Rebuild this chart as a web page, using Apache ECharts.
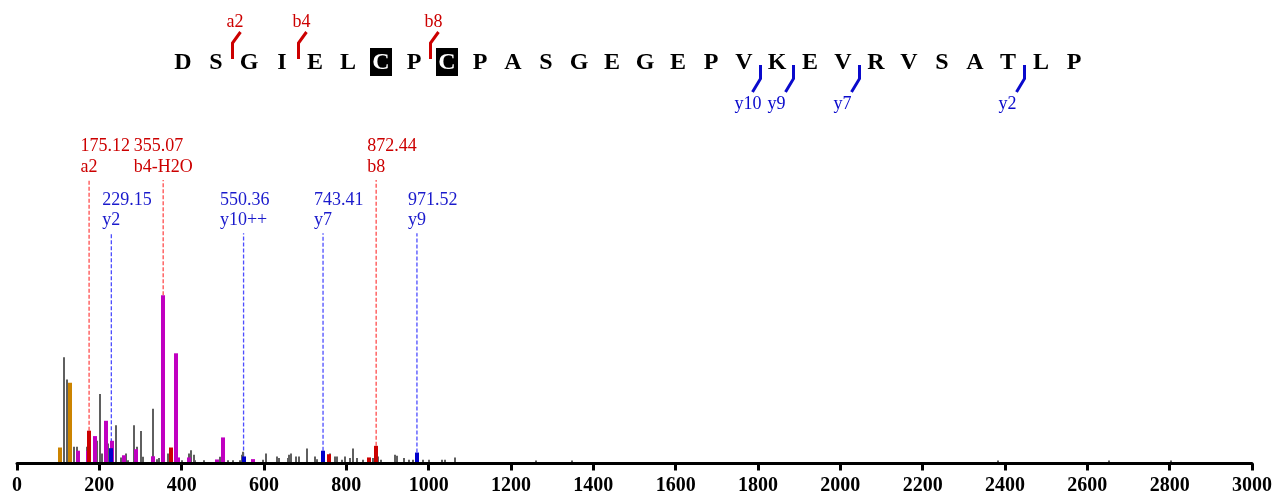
<!DOCTYPE html>
<html>
<head>
<meta charset="utf-8">
<title>MS/MS spectrum</title>
<script src="https://cdn.jsdelivr.net/npm/echarts@6/dist/echarts.min.js"></script>
<style>
html,body{margin:0;padding:0;background:#fff;}
#chart{width:1273px;height:499px;}
</style>
</head>
<body>
<div id="chart"></div>
<script>
// 肽段序列及碎裂位点
var sequence = ['D','S','G','I','E','L','C','P','C','P','A','S','G','E','G','E','P','V','K','E','V','R','V','S','A','T','L','P'];
var modifiedSites = [6, 8];
var nIonNames = ['a2', 'b4', 'b8'];
var nIonSites = [2, 4, 8];
var cIonNames = ['y10', 'y9', 'y7', 'y2'];
var cIonSites = [10, 9, 7, 2];

// 谱峰 (m/z, 相对强度)
var grayMz = [101.7,114,121.5,137.7,145.7,169,194.3,201.6,205.7,221,239.7,253.4,264.8,269.6,285,290.7,301.2,305.3,329.6,340.9,345.7,367.6,389.4,400.8,417,421.9,430,432.4,453.5,493,513.3,525.5,541.7,545.8,548.2,596.8,604,631.6,637.3,657.5,661.5,665.6,677.7,685,703.7,723.9,729.6,740.9,760.3,771.6,777.3,788.6,796.8,808.9,817,825.2,841.4,864,877.7,884.2,918.2,923.8,940,953,962.7,985.4,1000,1032,1039,1065,1261.5,1348,2384,2653,2803];
var grayInt = [5.2,63.1,50,9.9,9.9,9.9,13.5,41.3,6,11.9,22.8,3.6,6,2,22.8,9.9,19.3,4,32.6,2.6,3.2,6,14.9,2,6,7.9,5.2,2,2,4,2,2,2,5.2,7,2.2,6,4.2,3.2,3.2,5.2,6,4.2,4.2,8.9,4.2,2.6,3.2,6,4.2,4.2,2.2,4.2,3.2,8.9,3.2,2.2,3.2,4.2,2.2,5.2,4.6,3.2,2.2,2.2,2.2,2.2,2.2,2.2,3.6,1.8,1.8,1.8,1.8,1.8];
var magentaMz = [147,172.5,189.5,217,230,260.7,288.3,331,355.5,385.4,391.9,417.8,485,501.2,572.5];
var magentaInt = [7.6,7.6,16.3,25.4,13.5,4.9,8.5,4.3,100,65.5,3.6,3.6,2.4,15.5,2.6];
var orangeMz = [105,128.7];
var orangeInt = [9.5,48];
var redMz = [175.12,373.3,757.1,855.9,872.44];
var redInt = [19.5,9.5,5.5,3.6,10.5];
var blueMz = [229.15,550.36,743.41,971.52];
var blueInt = [9.1,4.2,7.6,6.5];

// 标注
var annotMz = [175.12,355.07,872.44,229.15,550.36,743.41,971.52];
var annotName = ['a2','b4-H2O','b8','y2','y10++','y7','y9'];
var annotInt = [19.5,100,10.5,9.1,4.2,7.6,6.5];
var annotLevel = [168.5,168.5,168.5,136.8,136.8,136.8,136.8];
var annotKind = ['b','b','b','y','y','y','y'];

// 坐标轴
var xMin = 0, xMax = 3000, xStep = 200;
var yMax = 200;

var serif = '"Liberation Serif","Times New Roman",serif';
var measureCtx = document.createElement('canvas').getContext('2d');
function textWidth(str, font){
  measureCtx.font = font;
  return measureCtx.measureText(str).width;
}

function zip(a, b){
  var out = [];
  for (var i = 0; i < a.length; i++) out.push([a[i], b[i]]);
  return out;
}

//谱峰柱
function peakRender(color, width){
  return function(params, api){
    var top = api.coord([api.value(0), api.value(1)]);
    var base = api.coord([api.value(0), 0]);
    return {
      type: 'rect',
      shape: {x: Math.round(top[0] - width / 2), y: top[1], width: width, height: base[1] - top[1]},
      style: {fill: color}
    };
  };
}

//峰标注
function annotRender(params, api){
  var i = params.dataIndex;
  var p0 = api.coord([api.value(0), api.value(1)]);
  var p1 = api.coord([api.value(0), api.value(2)]);
  var isB = annotKind[i] == 'b';
  var dash = isB ? '#ff4d4d' : '#4d4dff';
  var txt = isB ? '#cc0000' : '#1a1acc';
  var font = '18px ' + serif;
  var left = p1[0] - textWidth(annotName[i], font) / 2;
  return {
    type: 'group',
    children: [
      {type: 'line', shape: {x1: p0[0], y1: p0[1], x2: p1[0], y2: p1[1]},
       style: {stroke: dash, lineWidth: 1.3, lineDash: [4, 2]}},
      {type: 'text', style: {text: annotName[i], x: left, y: p1[1] - 13, font: font, fill: txt, align: 'left', verticalAlign: 'middle'}},
      {type: 'text', style: {text: annotMz[i].toFixed(2), x: left, y: p1[1] - 33.5, font: font, fill: txt, align: 'left', verticalAlign: 'middle'}}
    ]
  };
}

//序列字母
function letterRender(params, api){
  var i = params.dataIndex;
  var c = api.coord([i, 0]);
  var boxed = modifiedSites.indexOf(i) >= 0;
  var children = [];
  if (boxed) {
    children.push({type: 'rect', shape: {x: c[0] - 11, y: c[1] - 14.6, width: 22, height: 28}, style: {fill: '#000'}});
  }
  children.push({type: 'text', style: {text: sequence[i], x: c[0], y: c[1], font: 'bold 24px ' + serif,
    fill: boxed ? '#fff' : '#000', align: 'center', verticalAlign: 'middle'}});
  return {type: 'group', children: children};
}

//碎裂标记
function fragRender(params, api){
  var c = api.coord([api.value(0), 0]);
  var x = c[0], yc = c[1];
  var isN = api.value(1) == 0;
  var name = isN ? nIonNames[params.dataIndex] : cIonNames[params.dataIndex - nIonNames.length];
  var color = isN ? '#cc0000' : '#0a0acc';
  var font = '18px ' + serif;
  if (isN) {
    return {type: 'group', children: [
      {type: 'polyline', shape: {points: [[x, yc - 3.6], [x, yc - 19.6], [x + 8, yc - 30.6]]}, style: {stroke: color, lineWidth: 3, fill: null}},
      {type: 'text', style: {text: name, x: x - 6, y: yc - 40.3, font: font, fill: color, align: 'left', verticalAlign: 'middle'}}
    ]};
  }
  return {type: 'group', children: [
    {type: 'polyline', shape: {points: [[x, yc + 2.4], [x, yc + 16.1], [x - 8, yc + 29.4]]}, style: {stroke: color, lineWidth: 3, fill: null}},
    {type: 'text', style: {text: name, x: x - 26, y: yc + 41.9, font: font, fill: color, align: 'left', verticalAlign: 'middle'}}
  ]};
}

var fragData = [];
for (var i = 0; i < nIonSites.length; i++) fragData.push([nIonSites[i] - 0.5, 0]);
for (var j = 0; j < cIonSites.length; j++) fragData.push([sequence.length - cIonSites[j] - 0.5, 1]);

var letterData = [];
for (var k = 0; k < sequence.length; k++) letterData.push([k, 0]);

var annotData = [];
for (var a = 0; a < annotMz.length; a++) annotData.push([annotMz[a], annotInt[a], annotLevel[a]]);

var myChart = echarts.init(document.getElementById('chart'));
var option = {
  animation: false,
  grid: [
    {left: 17, right: 21, top: 127, bottom: 35.5, outerBoundsMode: 'none'},
    {left: 183, width: 33 * (sequence.length - 1), top: 22, height: 81.2, outerBoundsMode: 'none'}
  ],
  xAxis: [
    {
      type: 'value', gridIndex: 0, min: xMin, max: xMax, interval: xStep, z: 10,
      axisLine: {show: true, lineStyle: {color: '#000', width: 3}},
      axisTick: {show: true, length: 7, lineStyle: {color: '#000', width: 3}},
      axisLabel: {show: true, color: '#000', fontFamily: serif, fontWeight: 'bold', fontSize: 20, margin: 12,
                  showMinLabel: true, showMaxLabel: true, hideOverlap: false,
                  formatter: function(v){ return String(v); }},
      splitLine: {show: false}
    },
    {type: 'value', gridIndex: 1, min: 0, max: sequence.length - 1, show: false}
  ],
  yAxis: [
    {type: 'value', gridIndex: 0, min: 0, max: yMax, show: false, splitLine: {show: false}},
    {type: 'value', gridIndex: 1, min: -1, max: 1, show: false}
  ],
  series: [
    {type: 'custom', xAxisIndex: 0, yAxisIndex: 0, z: 2, renderItem: annotRender, data: annotData},
    {type: 'custom', xAxisIndex: 0, yAxisIndex: 0, z: 3, renderItem: peakRender('#5f5f5f', 2), data: zip(grayMz, grayInt)},
    {type: 'custom', xAxisIndex: 0, yAxisIndex: 0, z: 4, renderItem: peakRender('#c000c0', 4), data: zip(magentaMz, magentaInt)},
    {type: 'custom', xAxisIndex: 0, yAxisIndex: 0, z: 4, renderItem: peakRender('#cc8400', 4), data: zip(orangeMz, orangeInt)},
    {type: 'custom', xAxisIndex: 0, yAxisIndex: 0, z: 5, renderItem: peakRender('#cc0000', 4), data: zip(redMz, redInt)},
    {type: 'custom', xAxisIndex: 0, yAxisIndex: 0, z: 5, renderItem: peakRender('#0000cc', 4), data: zip(blueMz, blueInt)},
    {type: 'custom', xAxisIndex: 1, yAxisIndex: 1, renderItem: letterRender, data: letterData},
    {type: 'custom', xAxisIndex: 1, yAxisIndex: 1, renderItem: fragRender, data: fragData}
  ]
};
myChart.setOption(option);
</script>
</body>
</html>
